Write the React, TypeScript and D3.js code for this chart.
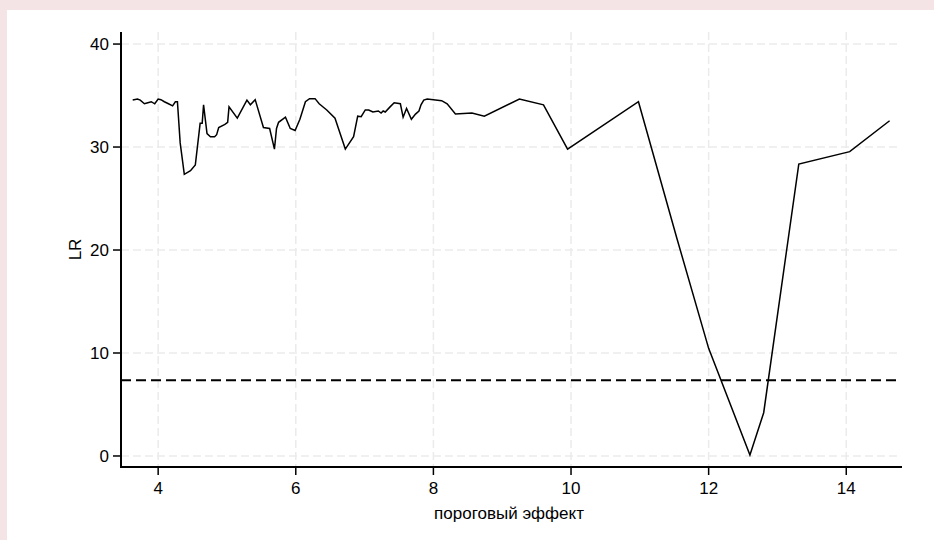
import React from 'react';
import { scaleLinear, line } from 'd3';

// threshold values (x) and likelihood-ratio statistic (y)
const thresholds = [
  3.63, 3.7, 3.74, 3.8, 3.85, 3.9, 3.95, 4.0, 4.04, 4.09, 4.15, 4.21, 4.25, 4.28,
  4.32, 4.38, 4.47, 4.54, 4.61, 4.64, 4.66, 4.71, 4.76, 4.82, 4.85, 4.88, 4.97,
  5.01, 5.03, 5.15, 5.29, 5.34, 5.41, 5.53, 5.62, 5.69, 5.72, 5.75, 5.85, 5.92,
  5.99, 6.06, 6.14, 6.2, 6.28, 6.34, 6.45, 6.57, 6.62, 6.72, 6.84, 6.9, 6.95,
  7.01, 7.06, 7.12, 7.2, 7.24, 7.27, 7.3, 7.37, 7.43, 7.52, 7.56, 7.61, 7.68,
  7.74, 7.79, 7.82, 7.86, 7.91, 8.12, 8.2, 8.32, 8.56, 8.74, 9.25, 9.6, 9.95,
  10.98, 11.54, 12.0, 12.6, 12.8, 13.31, 14.05, 14.63,
];
const lr = [
  34.56, 34.66, 34.56, 34.2, 34.3, 34.4, 34.2, 34.66, 34.6, 34.4, 34.2, 34.0, 34.4, 34.4,
  30.4, 27.35, 27.7, 28.25, 32.3, 32.3, 34.1, 31.3, 31.0, 31.0, 31.2, 31.9, 32.2,
  32.4, 33.9, 32.8, 34.56, 34.1, 34.6, 31.9, 31.8, 29.8, 31.8, 32.4, 32.9, 31.8,
  31.6, 32.7, 34.4, 34.7, 34.7, 34.2, 33.6, 32.8, 31.8, 29.8, 31.0, 33.0, 32.95,
  33.6, 33.6, 33.4, 33.5, 33.3, 33.5, 33.4, 33.9, 34.3, 34.2, 32.9, 33.75, 32.7,
  33.2, 33.5, 34.1, 34.56, 34.66, 34.5, 34.2, 33.2, 33.3, 33.0, 34.66, 34.1, 29.8,
  34.4, 21.1, 10.45, 0.1, 4.2, 28.35, 29.55, 32.55,
];
const criticalValue = 7.35;
const xTicks = [4, 6, 8, 10, 12, 14];
const yTicks = [0, 10, 20, 30, 40];

const W = 934;
const H = 540;
const FONT = '"Liberation Sans", Arial, sans-serif';
const FS = 17;

export default function App() {
  const x = scaleLinear().domain([3.46, 14.81]).range([121, 902]);
  const y = scaleLinear().domain([-1.07, 41.17]).range([467, 32]);

  const pts: [number, number][] = thresholds.map((t, i) => [t, lr[i]]);
  const path = line<[number, number]>()
    .x((d) => x(d[0]))
    .y((d) => y(d[1]))(pts);

  const left = x.range()[0];
  const right = x.range()[1];
  const gridRight = 897;
  const top = y.range()[1];
  const bottom = y.range()[0];

  return (
    <svg
      width={W}
      height={H}
      style={{ position: 'absolute', left: 0, top: 0 }}
      fontFamily={FONT}
    >
      <rect x={0} y={0} width={W} height={H} fill="#f5e4e5" />
      <rect x={7} y={10} width={W - 7} height={H - 10} fill="#ffffff" />

      {/* grid */}
      {yTicks.map((t) => (
        <line
          key={'gy' + t}
          x1={left}
          x2={gridRight}
          y1={y(t)}
          y2={y(t)}
          stroke="#ebebeb"
          strokeWidth={1.5}
          strokeDasharray="8,4"
        />
      ))}
      {xTicks.map((t) => (
        <line
          key={'gx' + t}
          x1={x(t)}
          x2={x(t)}
          y1={top}
          y2={bottom}
          stroke="#ebebeb"
          strokeWidth={1.5}
          strokeDasharray="8,4"
        />
      ))}

      {/* critical value */}
      <line
        x1={left}
        x2={gridRight}
        y1={y(criticalValue)}
        y2={y(criticalValue)}
        stroke="#000"
        strokeWidth={2}
        strokeDasharray="10,5"
      />

      {/* LR curve */}
      <path d={path || ''} fill="none" stroke="#000" strokeWidth={1.5} />

      {/* axes */}
      <line x1={left} x2={left} y1={top} y2={bottom} stroke="#000" strokeWidth={2} />
      <line x1={left - 1} x2={right} y1={bottom} y2={bottom} stroke="#000" strokeWidth={2} />

      {yTicks.map((t) => (
        <g key={'ty' + t}>
          <line x1={left - 8} x2={left} y1={y(t)} y2={y(t)} stroke="#000" strokeWidth={1.5} />
          <text x={left - 12} y={y(t) + 6} textAnchor="end" fontSize={FS}>
            {t}
          </text>
        </g>
      ))}
      {xTicks.map((t) => (
        <g key={'tx' + t}>
          <line x1={x(t)} x2={x(t)} y1={bottom} y2={bottom + 8} stroke="#000" strokeWidth={1.5} />
          <text x={x(t)} y={bottom + 27} textAnchor="middle" fontSize={FS}>
            {t}
          </text>
        </g>
      ))}

      <text x={509} y={519} textAnchor="middle" fontSize={FS}>
        пороговый эффект
      </text>
      <text
        transform={`translate(81,${(top + bottom) / 2}) rotate(-90)`}
        textAnchor="middle"
        fontSize={FS}
      >
        LR
      </text>
    </svg>
  );
}
